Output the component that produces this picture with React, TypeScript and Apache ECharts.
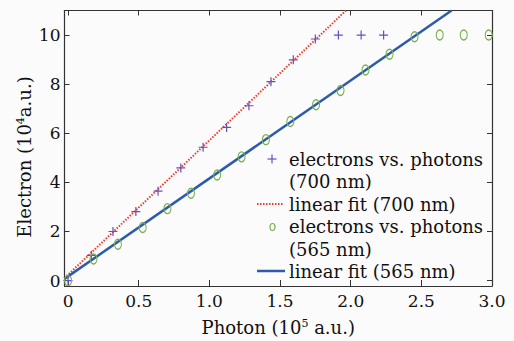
import React, { useEffect, useRef } from "react";
import * as echarts from "echarts";

const photons700 = [0, 0.165, 0.318, 0.48, 0.637, 0.798, 0.956, 1.122, 1.28, 1.436, 1.594, 1.75, 1.913, 2.074, 2.233];
const electrons700 = [0, 1.03, 2.0, 2.81, 3.64, 4.59, 5.43, 6.24, 7.12, 8.1, 8.99, 9.84, 10, 10, 10];
const photons565 = [0, 0.18, 0.353, 0.528, 0.703, 0.87, 1.055, 1.228, 1.4, 1.573, 1.755, 1.928, 2.105, 2.275, 2.452, 2.63, 2.8, 2.977];
const electrons565 = [0, 0.88, 1.48, 2.16, 2.93, 3.56, 4.3, 5.04, 5.74, 6.48, 7.16, 7.74, 8.58, 9.22, 9.93, 10, 10, 10];
const fit700X = [-0.025, 1.967];
const fit700Y = [0.1, 11.0];
const fit565X = [-0.025, 2.714];
const fit565Y = [0.07, 11.0];
const xTicks = [0, 0.5, 1.0, 1.5, 2.0, 2.5, 3.0];
const yTicks = [0, 2, 4, 6, 8, 10];
const legendLines = [
  "electrons vs. photons",
  "(700 nm)",
  "linear fit (700 nm)",
  "electrons vs. photons",
  "(565 nm)",
  "linear fit (565 nm)",
];

const FONT = "DejaVu Serif";
const FS = 18;
const TICK_FS = 17;
const PURPLE = "#6650c0";
const GREEN = "#78ae4c";
const RED = "#ee3b2e";
const BLUE = "#2c5aad";
const AXIS = "#333";

const zip = (a: number[], b: number[]) => a.map((v, i) => [v, b[i]]);

export default function App() {
  const ref = useRef<HTMLDivElement>(null);
  useEffect(() => {
    if (!ref.current) return;
    const chart = echarts.init(ref.current, undefined, { renderer: "svg" });
    const axisCommon = {
      axisLine: { show: true, onZero: false, lineStyle: { color: AXIS, width: 1.2 } },
      splitLine: { show: false },
    };
    const xBase = { type: "value", min: -0.025, max: 3.0 };
    const yBase = { type: "value", min: -0.22, max: 11 };
    const legendY = [159, 181, 204, 226, 249, 271];
    const graphic: any[] = [];
    legendLines.forEach((t, i) => {
      graphic.push({
        type: "text",
        x: 289,
        y: legendY[i],
        style: { text: t, fontSize: FS, fontFamily: FONT, fill: "#111", verticalAlign: "middle", align: "left" },
      });
    });
    graphic.push(
      { type: "line", shape: { x1: 267.5, y1: 159, x2: 276.5, y2: 159 }, style: { stroke: PURPLE, lineWidth: 1.2 } },
      { type: "line", shape: { x1: 272, y1: 154.5, x2: 272, y2: 163.5 }, style: { stroke: PURPLE, lineWidth: 1.2 } },
      { type: "line", shape: { x1: 257, y1: 204, x2: 284, y2: 204 }, style: { stroke: RED, lineWidth: 2, lineDash: [1.5, 1.5] } },
      { type: "ellipse", shape: { cx: 272.5, cy: 227, rx: 2.5, ry: 3.5 }, style: { stroke: GREEN, fill: "none", lineWidth: 1.2 } },
      { type: "line", shape: { x1: 257, y1: 271, x2: 285, y2: 271 }, style: { stroke: BLUE, lineWidth: 2.5 } },
      {
        type: "text",
        x: 24,
        y: 157,
        rotation: Math.PI / 2,
        style: {
          text: "Electron (10{sup|4}a.u.)",
          fontSize: FS,
          fontFamily: FONT,
          fill: "#111",
          align: "center",
          verticalAlign: "middle",
          rich: { sup: { fontSize: 11, fontFamily: FONT, verticalAlign: "top", fill: "#111", lineHeight: FS } },
        },
      }
    );
    chart.setOption({
      animation: false,
      backgroundColor: "#fbfbfb",
      textStyle: { fontFamily: FONT },
      grid: { left: 64.5, top: 10.5, right: 22, bottom: 54 },
      xAxis: [
        {
          ...xBase,
          ...axisCommon,
          position: "bottom",
          name: "Photon (10{sup|5} a.u.)",
          nameLocation: "middle",
          nameGap: 32,
          nameTextStyle: {
            fontSize: FS,
            fontFamily: FONT,
            color: "#111",
            rich: { sup: { fontSize: 11, fontFamily: FONT, verticalAlign: "top", color: "#111", lineHeight: FS } },
          },
          axisTick: { show: true, inside: true, length: 6, customValues: xTicks, lineStyle: { color: AXIS } },
          axisLabel: {
            show: true,
            customValues: xTicks,
            margin: 6,
            fontSize: TICK_FS,
            fontFamily: FONT,
            color: "#111",
            formatter: (v: number) => (v === 0 ? "0" : v.toFixed(1)),
          },
        },
        {
          ...xBase,
          ...axisCommon,
          position: "top",
          axisTick: { show: true, inside: true, length: 5, customValues: xTicks, lineStyle: { color: AXIS } },
          axisLabel: { show: false },
        },
      ],
      yAxis: [
        {
          ...yBase,
          ...axisCommon,
          position: "left",
          axisTick: { show: true, inside: true, length: 5, customValues: yTicks, lineStyle: { color: AXIS } },
          axisLabel: {
            show: true,
            customValues: yTicks,
            margin: 4,
            fontSize: TICK_FS,
            fontFamily: FONT,
            color: "#111",
          },
        },
        {
          ...yBase,
          ...axisCommon,
          position: "right",
          axisTick: { show: true, inside: true, length: 5, customValues: yTicks, lineStyle: { color: AXIS } },
          axisLabel: { show: false },
        },
      ],
      graphic,
      series: [
        {
          name: "linear fit (700 nm)",
          type: "line",
          data: zip(fit700X, fit700Y),
          symbol: "none",
          lineStyle: { color: RED, width: 2, type: [1.5, 1.5] },
          silent: true,
          z: 2,
        },
        {
          name: "linear fit (565 nm)",
          type: "line",
          data: zip(fit565X, fit565Y),
          symbol: "none",
          lineStyle: { color: BLUE, width: 2.5 },
          silent: true,
          z: 2,
        },
        {
          name: "electrons vs. photons (700 nm)",
          type: "scatter",
          data: zip(photons700, electrons700),
          symbol: "path://M0,5L10,5M5,0L5,10",
          symbolSize: 9,
          itemStyle: { color: "transparent", borderColor: PURPLE, borderWidth: 1.2, opacity: 1 },
          silent: true,
          z: 3,
        },
        {
          name: "electrons vs. photons (565 nm)",
          type: "scatter",
          data: zip(photons565, electrons565),
          symbol: "path://M5,0A5,5 0 1,1 5,10A5,5 0 1,1 5,0Z",
          symbolSize: [7, 10],
          itemStyle: { color: "transparent", borderColor: GREEN, borderWidth: 1.2, opacity: 1 },
          silent: true,
          z: 3,
        },
      ],
    });
    return () => chart.dispose();
  }, []);
  return <div ref={ref} style={{ position: "fixed", left: 0, top: 0, width: 514, height: 341 }} />;
}
